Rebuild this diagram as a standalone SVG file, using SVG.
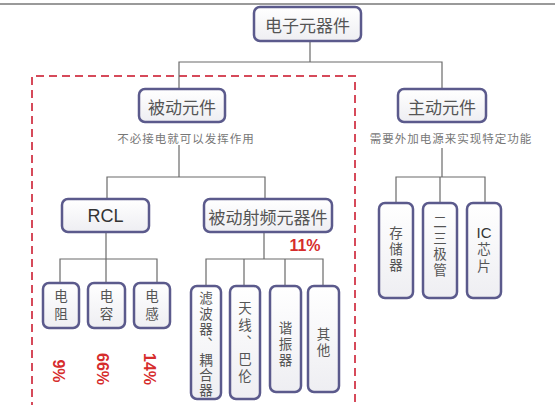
<svg xmlns="http://www.w3.org/2000/svg" width="555" height="405" viewBox="0 0 555 405">
<defs>
<linearGradient id="g" x1="0" y1="0" x2="0" y2="1"><stop offset="0" stop-color="#ffffff"/><stop offset="1" stop-color="#eeeef2"/></linearGradient>
<style>
.box{fill:url(#g);stroke:#5b5a8c;stroke-width:2.5}
.ln{fill:none;stroke:#6a6a6a;stroke-width:1.2}
.t{font-family:"Noto Sans CJK SC",sans-serif;fill:#555;text-anchor:middle;dominant-baseline:central}
.big{font-size:17px}
.cap{font-size:11.5px;fill:#777;letter-spacing:1px}
.v{font-family:"Noto Sans CJK SC",sans-serif;fill:#555;font-size:13.5px;text-anchor:middle;writing-mode:vertical-rl}
.lat{font-family:"Liberation Sans",Arial,sans-serif;fill:#333;text-anchor:middle;dominant-baseline:central}
.pct{font-family:"Liberation Sans",Arial,sans-serif;font-weight:bold;font-size:16px;fill:#d62c2c;text-anchor:middle;dominant-baseline:central}
</style>
</defs>
<rect width="555" height="405" fill="#ffffff"/>
<line x1="0" y1="4" x2="555" y2="4" stroke="#9a9a9a" stroke-width="2"/>
<path d="M32,410 V76 H355 V410" fill="none" stroke="#d64a5a" stroke-width="2" stroke-dasharray="8 5"/>
<g id="connectors">
<path class="ln" d="M310,41 V62 M179,89 V62 H442 V89"/>
<path class="ln" d="M179,145 V177 M107,199 V177 H265 V199"/>
<path class="ln" d="M442,148 V177 M396,203 V177 H485 V203 M440,177 V203"/>
<path class="ln" d="M106,232 V259 M60,283 V259 H157 V283 M106,259 V283"/>
<path class="ln" d="M264,232 V259 M206,286 V259 H323 V286 M244,259 V286 M285,259 V286"/>
</g>
<g id="n-root"><rect class="box" x="254" y="7" width="107" height="34" rx="6"/><text class="t big" x="307.5" y="24.5">电子元器件</text></g>
<g id="n-passive"><rect class="box" x="139" y="89" width="86" height="33" rx="6"/><text class="t big" x="182" y="106">被动元件</text><text class="t cap" x="186" y="138">不必接电就可以发挥作用</text></g>
<g id="n-active"><rect class="box" x="398" y="89" width="88" height="33" rx="6"/><text class="t big" x="442" y="106">主动元件</text><text class="t cap" x="451" y="138">需要外加电源来实现特定功能</text></g>
<g id="n-rcl"><rect class="box" x="62" y="199" width="87" height="33" rx="6"/><text class="lat" x="105.5" y="216" font-size="18">RCL</text></g>
<g id="n-rf"><rect class="box" x="204" y="199" width="128" height="33" rx="6"/><text class="t big" x="268" y="216" font-size="15">被动射频元器件</text><text class="pct" x="305" y="245">11%</text></g>
<g id="n-r"><rect class="box" x="43" y="283" width="36" height="45" rx="6"/><text class="v" x="61" y="307" letter-spacing="4">电阻</text><text class="pct" transform="translate(58,371) rotate(90)">9%</text></g>
<g id="n-c"><rect class="box" x="88" y="283" width="37" height="45" rx="6"/><text class="v" x="106.5" y="307" letter-spacing="4">电容</text><text class="pct" transform="translate(102,369) rotate(90)">66%</text></g>
<g id="n-l"><rect class="box" x="134" y="283" width="36" height="45" rx="6"/><text class="v" x="152" y="307" letter-spacing="4">电感</text><text class="pct" transform="translate(149,369) rotate(90)">14%</text></g>
<g id="n-filter"><rect class="box" x="191" y="286" width="30" height="113" rx="6"/><text class="v" x="206" y="345" letter-spacing="1.8">滤波器、耦合器</text></g>
<g id="n-ant"><rect class="box" x="230" y="286" width="30" height="113" rx="6"/><text class="v" x="245" y="344" letter-spacing="3.5">天线、巴伦</text></g>
<g id="n-res"><rect class="box" x="270" y="286" width="31" height="106" rx="6"/><text class="v" x="285.5" y="345" letter-spacing="2.5">谐振器</text></g>
<g id="n-other"><rect class="box" x="308" y="286" width="31" height="106" rx="6"/><text class="v" x="323.5" y="343" letter-spacing="2.5">其他</text></g>
<g id="n-mem"><rect class="box" x="379" y="203" width="34" height="95" rx="6"/><text class="v" x="396" y="250" letter-spacing="2.5">存储器</text></g>
<g id="n-diode"><rect class="box" x="423" y="203" width="34" height="95" rx="6"/><text class="v" x="440" y="247" letter-spacing="2.5">二三极管</text></g>
<g id="n-ic"><rect class="box" x="467" y="203" width="34" height="95" rx="6"/><text class="lat" x="484" y="232" font-size="15">IC</text><text class="v" x="484" y="259" letter-spacing="3">芯片</text></g>
</svg>
